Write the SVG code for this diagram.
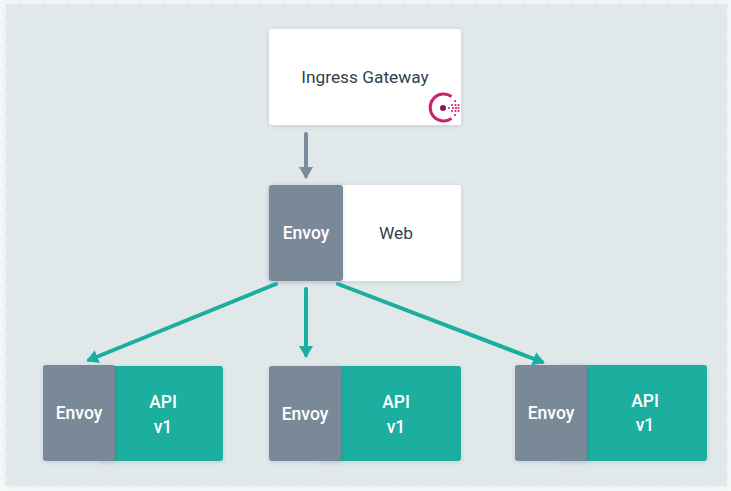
<svg xmlns="http://www.w3.org/2000/svg" width="731" height="491" viewBox="0 0 731 491">
<defs>
<filter id="sh" x="-20%" y="-20%" width="140%" height="140%"><feDropShadow dx="0" dy="1" stdDeviation="2" flood-color="#1f2d3d" flood-opacity="0.13"/></filter>
<filter id="pn" x="-2%" y="-2%" width="104%" height="104%"><feDropShadow dx="0" dy="0" stdDeviation="3" flood-color="#1f2d3d" flood-opacity="0.06"/></filter>
<marker id="ag" markerUnits="userSpaceOnUse" markerWidth="14" markerHeight="14" refX="9" refY="7" orient="auto"><path d="M0 0L12 7L0 14Z" fill="#1aae9f"/></marker>
<marker id="ab" markerUnits="userSpaceOnUse" markerWidth="14" markerHeight="14" refX="9" refY="7" orient="auto"><path d="M0 0L12 7L0 14Z" fill="#7c8b9b"/></marker>
</defs>
<style>
text{font-family:"Roboto","Liberation Sans",sans-serif;font-size:17.300px;text-anchor:middle}
.d{fill:#323f4d}
.w{fill:#fff;font-weight:500;font-size:17.500px}
.gray{fill:#7a8997}
.teal{fill:#1aae9f}
.card{filter:url(#sh)}
.g{stroke:#1aae9f;stroke-width:4;fill:none;stroke-linecap:round;marker-end:url(#ag)}
.b{stroke:#7c8b9b;stroke-width:4;fill:none;stroke-linecap:round;marker-end:url(#ab)}
</style>
<rect width="731" height="491" fill="#f5f7f8"/>
<rect class="pn" x="6.500" y="4.500" width="720" height="481" fill="#e1e8ea" stroke="#d6dcdf" stroke-dasharray="3 9" filter="url(#pn)"/>
<g id="ingress">
<rect class="card" x="269" y="29" width="192" height="96" rx="3" fill="#fff"/>
<text class="d" x="365" y="83">Ingress Gateway</text>
<rect x="427" y="92" width="34" height="33" fill="#fff"/>
<path d="M451.500 96.500A13.500 13.500 0 1 0 451.500 118.500" fill="none" stroke="#ca2171" stroke-width="3"/>
<circle cx="443" cy="108" r="3" fill="#8e1650"/>
<g fill="#ca2171"><circle cx="449" cy="108" r="1.100"/><circle cx="455" cy="101" r="1.100"/><circle cx="452" cy="105" r="1.100"/><circle cx="455.500" cy="105" r="1.100"/><circle cx="458.500" cy="105" r="1.100"/><circle cx="453" cy="108" r="1.100"/><circle cx="456" cy="108" r="1.100"/><circle cx="458.500" cy="108" r="1.100"/><circle cx="452" cy="111" r="1.100"/><circle cx="455.500" cy="111" r="1.100"/><circle cx="458.500" cy="111" r="1.100"/><circle cx="455" cy="115" r="1.100"/></g>
</g>
<g id="web">
<rect class="card" x="269" y="185" width="192" height="96" rx="3" fill="#fff"/>
<text class="d" x="396" y="239">Web</text>
</g>
<g id="envoy-web">
<rect class="gray card" x="269" y="185" width="74" height="96" rx="3"/>
<text class="w" x="306" y="239">Envoy</text>
</g>
<g id="api-1">
<rect class="teal card" x="100" y="366" width="123" height="95" rx="3"/>
<text class="w" x="163" y="408">API</text>
<text class="w" x="163" y="433">v1</text>
</g>
<g id="envoy-1">
<rect class="gray card" x="43" y="365" width="72" height="96" rx="3"/>
<text class="w" x="79" y="419">Envoy</text>
</g>
<g id="api-2">
<rect class="teal card" x="320" y="366" width="141" height="95" rx="3"/>
<text class="w" x="396" y="408">API</text>
<text class="w" x="396" y="433">v1</text>
</g>
<g id="envoy-2">
<rect class="gray card" x="269" y="366" width="72" height="95" rx="3"/>
<text class="w" x="305" y="420">Envoy</text>
</g>
<g id="api-3">
<rect class="teal card" x="560" y="365" width="147" height="96" rx="3"/>
<text class="w" x="645" y="407">API</text>
<text class="w" x="645" y="431">v1</text>
</g>
<g id="envoy-3">
<rect class="gray card" x="515" y="365" width="72" height="96" rx="3"/>
<text class="w" x="551" y="419">Envoy</text>
</g>
<g id="connectors">
<path class="b" d="M306 134V176"/>
<path class="g" d="M276 284L89 360"/>
<path class="g" d="M306 289V355"/>
<path class="g" d="M338 284L542 362"/>
</g>
</svg>
